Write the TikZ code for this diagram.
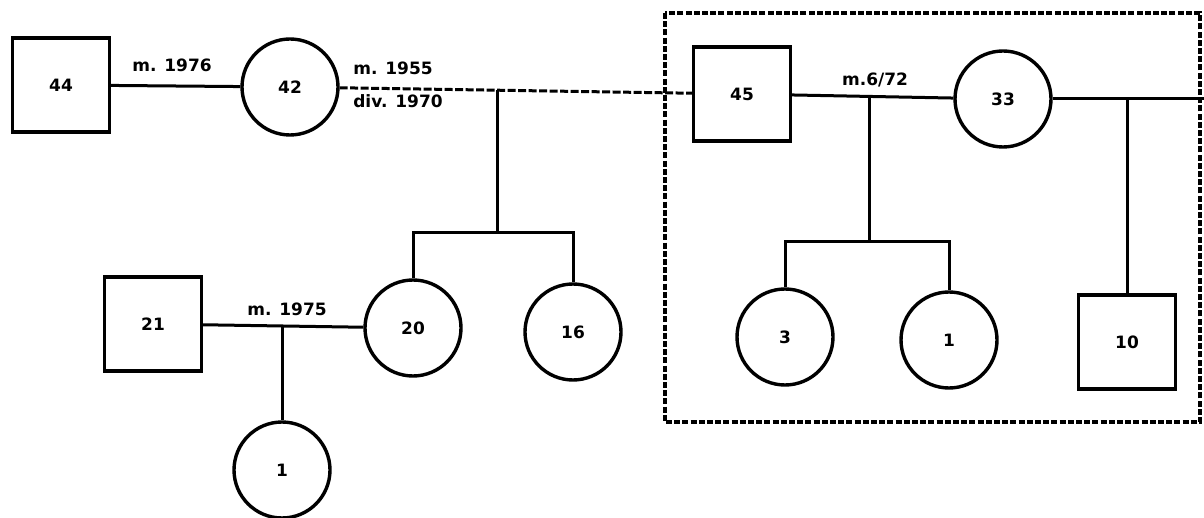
\documentclass[tikz,border=0pt]{standalone}
\usepackage{fontspec}
\setmainfont{DejaVu Sans}
\begin{document}
\begin{tikzpicture}[x=1pt,y=-1pt,
  every node/.style={inner sep=0pt},
  male/.style={draw, line width=3.4pt, rectangle, minimum width=97pt, minimum height=94pt,
     font=\fontsize{17}{19}\selectfont\bfseries},
  female/.style={draw, line width=3.4pt, circle, minimum size=96pt,
     font=\fontsize{17}{19}\selectfont\bfseries},
  rel/.style={line width=3pt},
  divrel/.style={line width=3pt, dash pattern=on 8pt off 2.5pt},
  lbl/.style={font=\fontsize{17}{19}\selectfont\bfseries},
  boxline/.style={line width=3.2pt, dash pattern=on 6pt off 2.2pt}
]
\useasboundingbox (0,0) rectangle (1204,518);

% household box
\draw[boxline] (665,13) rectangle (1200,422);

% people
\node[male]   (p44) at (61,85)   {44};
\node[female] (p42) at (290,87)  {42};
\node[male]   (p45) at (742,94)  {45};
\node[female] (p33) at (1003,99) {33};
\node[male]   (p21) at (153,324) {21};
\node[female] (p20) at (413,328) {20};
\node[female] (p16) at (573,332) {16};
\node[female] (p3)  at (785,337) {3};
\node[female] (p1b) at (949,340) {1};
\node[male]   (p10) at (1127,342) {10};
\node[female] (p1)  at (282,470) {1};

% relationship lines
\draw[rel] (p44) -- (p42);
\draw[divrel] (p42) -- (p45);
\draw[rel] (p45) -- (p33);
\coordinate (edge) at (1204,99);
\draw[rel] (p33) -- (edge);
\draw[rel] (p21) -- (p20);

% descent lines
\coordinate (s1) at (497,90);
\coordinate (b1) at (497,233);
\draw[rel] (s1) -- (b1);
\draw[rel] (p20.north) |- (b1) -| (p16.north);

\coordinate (s2) at (869,96);
\coordinate (b2) at (869,242);
\draw[rel] (s2) -- (b2);
\draw[rel] (p3.north) |- (b2) -| (p1b.north);

\coordinate (s3) at (1127,99);
\draw[rel] (s3) -- (p10.north);

\coordinate (s4) at (282,326);
\draw[rel] (s4) -- (p1.north);

% labels
\node[lbl] (l1976) at (172,65)  {m. 1976};
\node[lbl] (l1955) at (393,68)  {m. 1955};
\node[lbl] (l1970) at (398,101) {div. 1970};
\node[lbl] (l672)  at (875,80)  {m.6/72};
\node[lbl] (l1975) at (287,309) {m. 1975};
\end{tikzpicture}
\end{document}
